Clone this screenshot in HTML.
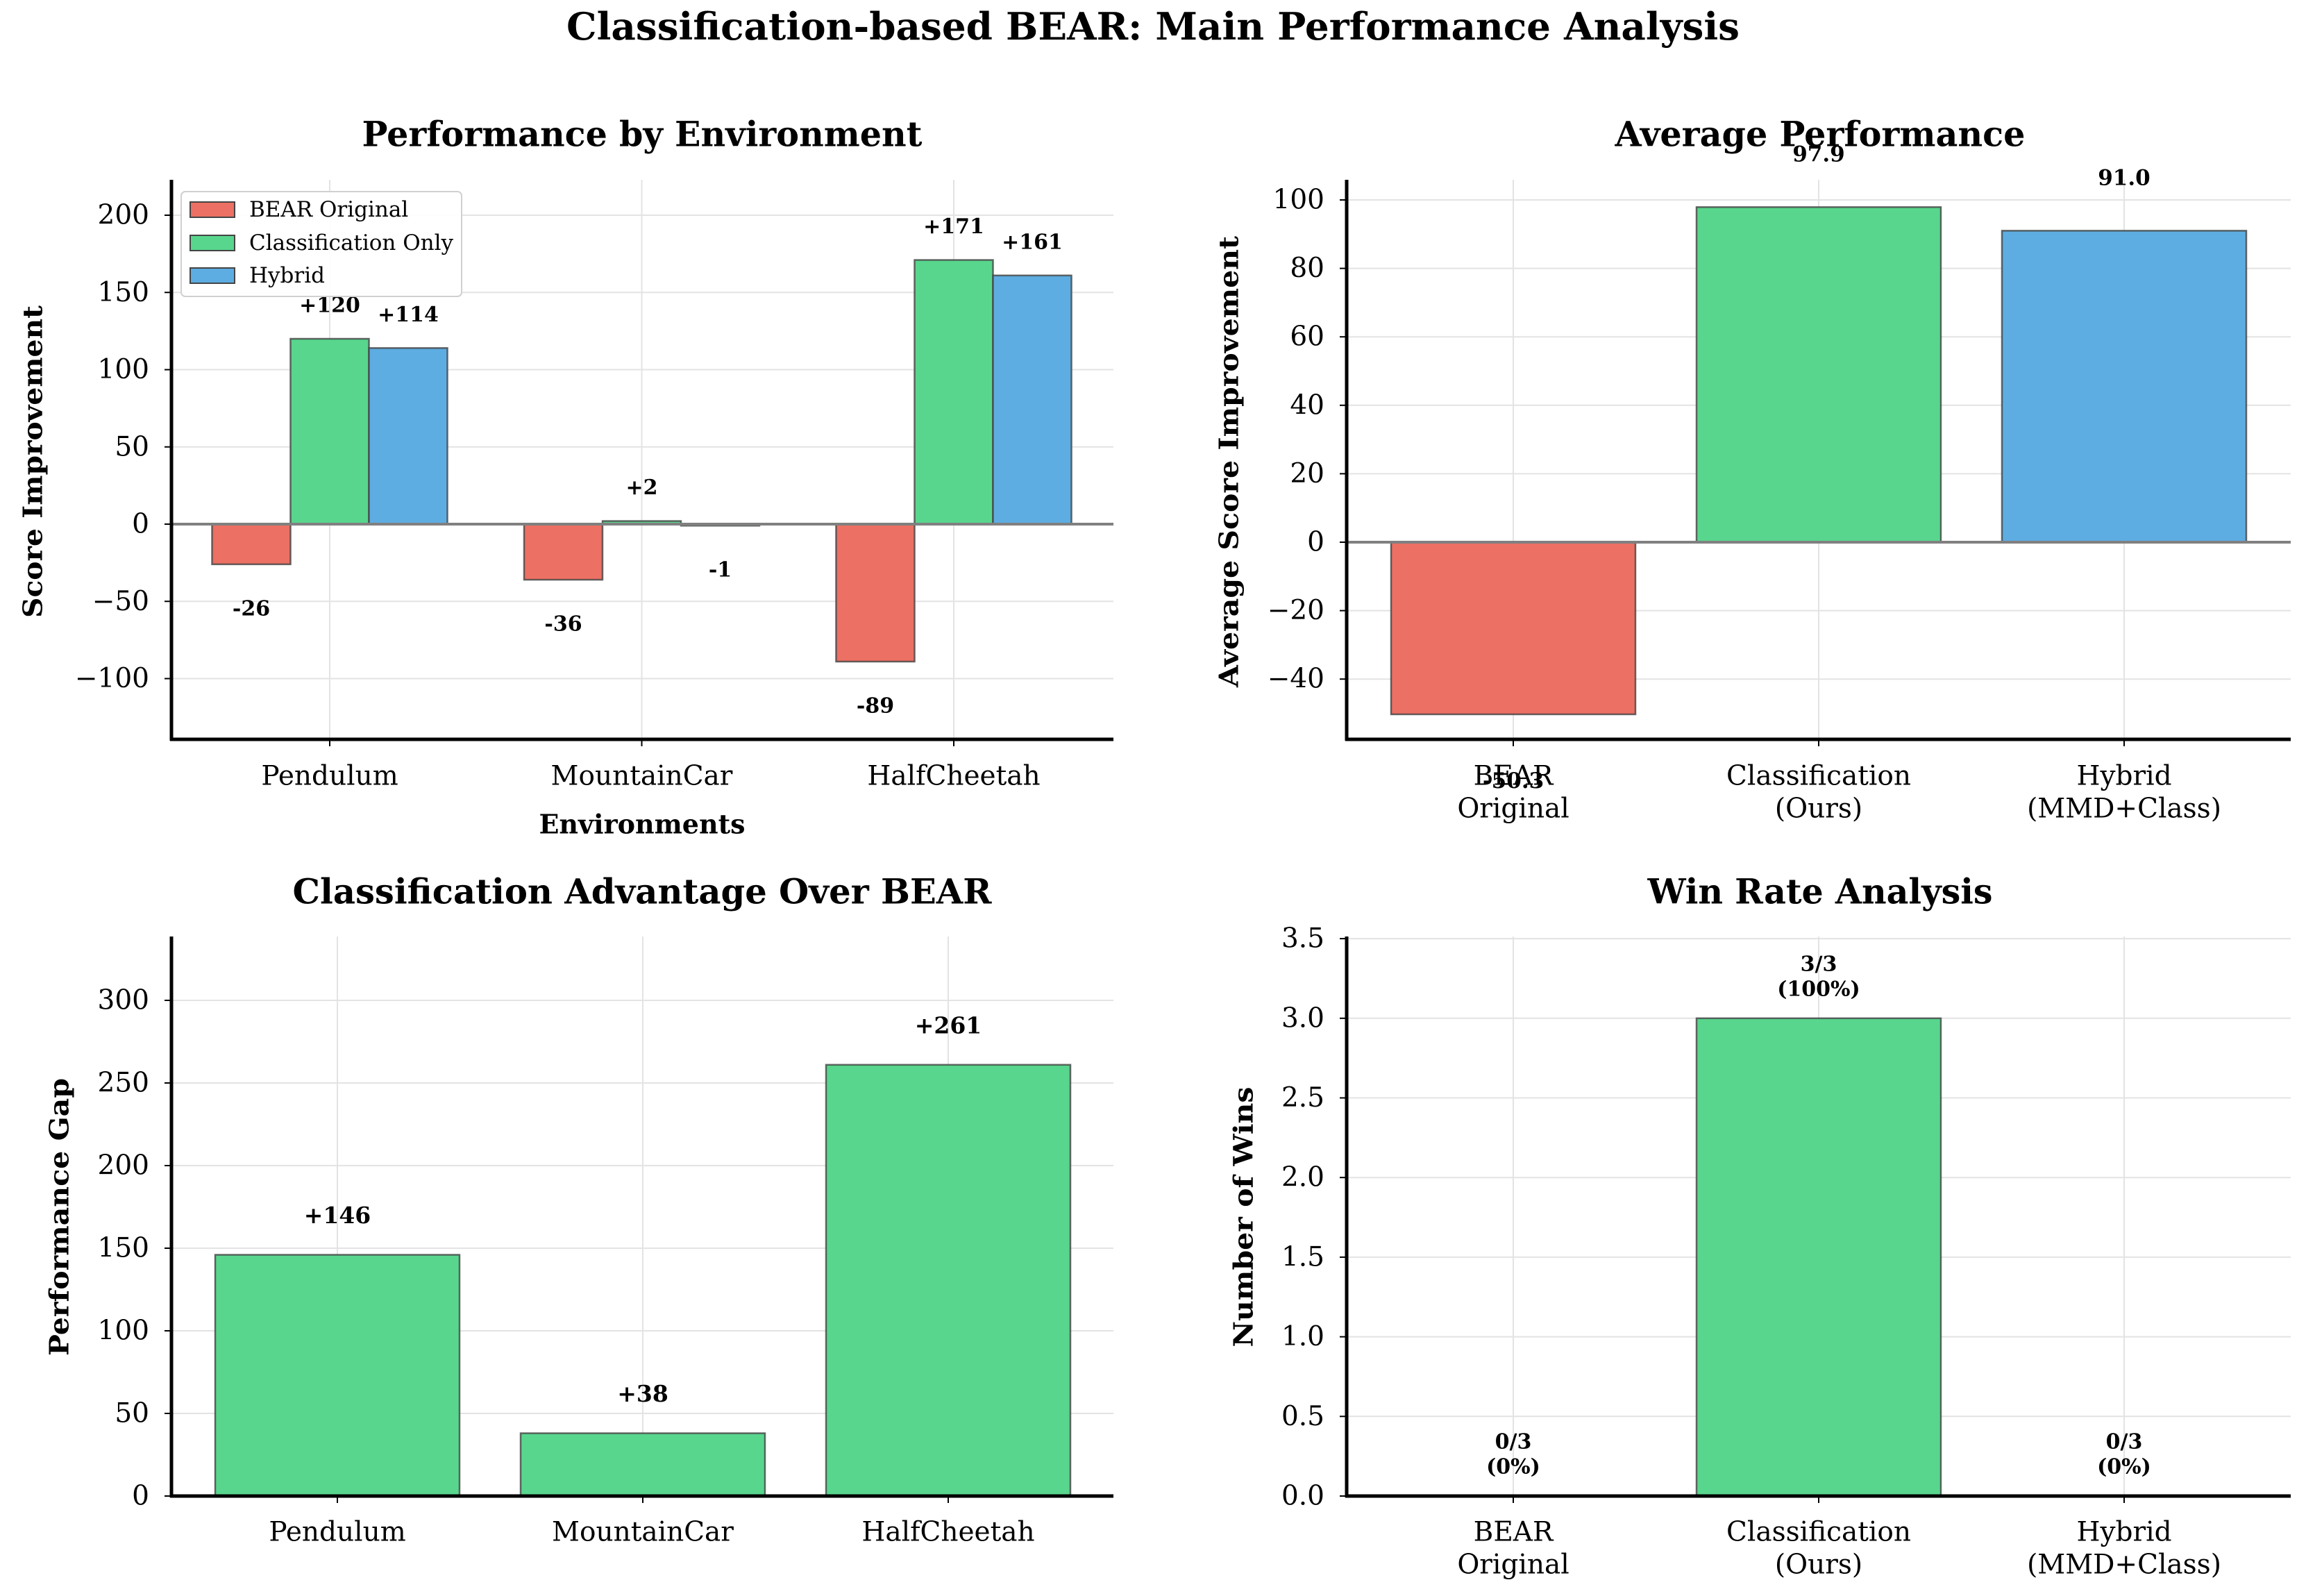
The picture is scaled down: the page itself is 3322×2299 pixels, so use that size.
<!DOCTYPE html>
<html><head><meta charset="utf-8">
<style>
html,body{margin:0;padding:0;background:#fff;}
svg{display:block;font-family:"DejaVu Serif","Liberation Serif",serif;}
</style></head>
<body>
<svg id="fig" width="3322" height="2299" viewBox="0 0 3322 2299" xmlns="http://www.w3.org/2000/svg">
<text x="1661" y="38" dominant-baseline="central" text-anchor="middle" font-weight="bold" font-size="54" textLength="1690" lengthAdjust="spacingAndGlyphs">Classification-based BEAR: Main Performance Analysis</text>
</svg>
<script>
// ---- data ----
const envCategories = ["Pendulum", "MountainCar", "HalfCheetah"];
const bearValues = [-26, -36, -89];
const classValues = [120, 2, 171];
const hybridValues = [114, -1, 161];
const perfTicks = [-100, -50, 0, 50, 100, 150, 200];
const methodLine1 = ["BEAR", "Classification", "Hybrid"];
const methodLine2 = ["Original", "(Ours)", "(MMD+Class)"];
const avgValues = [-50.3, 97.9, 91.0];
const avgTicks = [-40, -20, 0, 20, 40, 60, 80, 100];
const gapValues = [146, 38, 261];
const gapTicks = [0, 50, 100, 150, 200, 250, 300];
const winValues = [0, 3, 0];
const winTotal = 3;
const winTicks = [0, 0.5, 1.0, 1.5, 2.0, 2.5, 3.0, 3.5];

const NS = "http://www.w3.org/2000/svg";
const svg = document.getElementById("fig");
const RED = "#ec7063", GREEN = "#58d68d", BLUE = "#5dade2";
function mk(tag, attrs, parent) {
  const e = document.createElementNS(NS, tag);
  for (const k in attrs) e.setAttribute(k, attrs[k]);
  (parent || svg).appendChild(e);
  return e;
}
function txt(s, attrs, parent) { const e = mk("text", attrs, parent); e.textContent = s; return e; }

function axesFrame(g, L, R, T, B, xs, yTicks, yScale, tickFmt, labelX) {
  yTicks.forEach(t => {
    const y = yScale(t);
    const gl = mk("line", {x1: L, x2: R, y1: y, y2: y, stroke: "#e3e3e3", "stroke-width": 2}, g);
    
    
    const tk = mk("line", {x1: L - 10, x2: L, y1: y, y2: y, stroke: "#000", "stroke-width": 2}, g);
    
    
    const lb = txt(tickFmt(t), {x: labelX, y: y, "text-anchor": "end", "dominant-baseline": "central", "font-size": 39}, g);
    
    
  });
  xs.forEach(x => {
    const gl = mk("line", {x1: x, x2: x, y1: T, y2: B, stroke: "#e3e3e3", "stroke-width": 2}, g);
    
    
    const tk = mk("line", {x1: x, x2: x, y1: B, y2: B + 10, stroke: "#000", "stroke-width": 2}, g);
    
    
  });
}
function spines(g, L, R, T, B) {
  const l = mk("line", {x1: L, x2: L, y1: T, y2: B + 2, stroke: "#000", "stroke-width": 5}, g);
  
  
  const b = mk("line", {x1: L - 2, x2: R, y1: B, y2: B, stroke: "#000", "stroke-width": 5}, g);
  
  
}
function bar(g, x, w, y0, y1, fill, name) {
  const r = mk("rect", {x: x, y: Math.min(y0, y1), width: w, height: Math.max(Math.abs(y1 - y0), 1), fill: fill, stroke: "#444", "stroke-opacity": 0.8, "stroke-width": 2.5}, g);
  
  
  return r;
}

// ===== Panel 1 =====
{
  const L = 247, R = 1604, T = 259, B = 1065;
  const y0 = 755, pxPerUnit = 2.225;
  const ys = v => y0 - v * pxPerUnit;
  const xs = i => 475 + i * 449.5;
  const g = mk("g", {});
  
  
  axesFrame(g, L, R, T, B, envCategories.map((c, i) => xs(i)), perfTicks, ys, t => t < 0 ? "\u2212" + Math.abs(t) : String(t), 215);
  const bw = 113;
  const series = [[bearValues, RED, -1], [classValues, GREEN, 0], [hybridValues, BLUE, 1]];
  series.forEach(([vals, col, off], si) => {
    vals.forEach((v, i) => {
      const cx = xs(i) + off * bw;
      bar(g, cx - bw / 2, bw, ys(0), ys(v), col, ["bear-bar", "classification-bar", "hybrid-bar"][si]);
      const ly = v >= 0 ? ys(v) - 48 : ys(v) + 64;
      const lb = txt((v >= 0 ? "+" : "") + v, {x: cx, y: ly, "text-anchor": "middle", "dominant-baseline": "central", "font-size": 30, "font-weight": "bold"}, g);
      
      
    });
  });
  const zl = mk("line", {x1: L, x2: R, y1: ys(0), y2: ys(0), stroke: "#808080", "stroke-width": 4}, g);
  
  
  spines(g, L, R, T, B);
  envCategories.forEach((c, i) => {
    const t = txt(c, {x: xs(i), y: 1118, "text-anchor": "middle", "dominant-baseline": "central", "font-size": 39}, g);
    
    
  });
  const xl = txt("Environments", {x: 925, y: 1187, "text-anchor": "middle", "dominant-baseline": "central", "font-size": 38, "font-weight": "bold"}, g);
  
  
  const yl = txt("Score Improvement", {x: 47, y: 665, "text-anchor": "middle", "dominant-baseline": "central", "font-size": 38, "font-weight": "bold", transform: "rotate(-90 47 665)", textLength: 450, lengthAdjust: "spacingAndGlyphs"}, g);
  
  
  const tt = txt("Performance by Environment", {x: 925, y: 193, "text-anchor": "middle", "dominant-baseline": "central", "font-size": 50, "font-weight": "bold", textLength: 807, lengthAdjust: "spacingAndGlyphs"}, g);
  
  
  const lg = mk("g", {});
  
  
  const box = mk("rect", {x: 261, y: 276, width: 404, height: 151, rx: 6, fill: "#fff", "fill-opacity": 0.9, stroke: "#d0d0d0", "stroke-width": 2}, lg);
  
  
  [["BEAR Original", RED, 302], ["Classification Only", GREEN, 350], ["Hybrid", BLUE, 397]].forEach(([n, c, y]) => {
    const e = mk("g", {}, lg);
    
    
    mk("rect", {x: 274, y: y - 11, width: 64, height: 22, fill: c, stroke: "#444", "stroke-width": 2}, e);
    txt(n, {x: 359, y: y, "dominant-baseline": "central", "font-size": 31}, e);
  });
}

// ===== Panel 2 =====
{
  const L = 1940, R = 3300, T = 259, B = 1065;
  const y0 = 781, pxPerUnit = 4.93;
  const ys = v => y0 - v * pxPerUnit;
  const xs = i => 2180 + i * 440;
  const g = mk("g", {});
  
  
  axesFrame(g, L, R, T, B, methodLine1.map((c, i) => xs(i)), avgTicks, ys, t => t < 0 ? "\u2212" + Math.abs(t) : String(t), 1908);
  const bw = 352;
  avgValues.forEach((v, i) => {
    bar(g, xs(i) - bw / 2, bw, ys(0), ys(v), [RED, GREEN, BLUE][i], "average-bar");
  });
  const zl = mk("line", {x1: L, x2: R, y1: ys(0), y2: ys(0), stroke: "#808080", "stroke-width": 4}, g);
  
  
  spines(g, L, R, T, B);
  methodLine1.forEach((c, i) => {
    const t = txt(c, {x: xs(i), y: 1118, "text-anchor": "middle", "dominant-baseline": "central", "font-size": 39}, g);
    
    
    const t2 = txt(methodLine2[i], {x: xs(i), y: 1165, "text-anchor": "middle", "dominant-baseline": "central", "font-size": 39}, g);
    
    
  });
  avgValues.forEach((v, i) => {
    const ly = v >= 0 ? ys(v) - 76 : ys(v) + 96;
    const lb = txt(v.toFixed(1), {x: xs(i), y: ly, "text-anchor": "middle", "dominant-baseline": "central", "font-size": 31, "font-weight": "bold"}, g);
    
    
  });
  const yl = txt("Average Score Improvement", {x: 1770, y: 665, "text-anchor": "middle", "dominant-baseline": "central", "font-size": 38, "font-weight": "bold", transform: "rotate(-90 1770 665)", textLength: 650, lengthAdjust: "spacingAndGlyphs"}, g);
  
  
  const tt = txt("Average Performance", {x: 2622, y: 193, "text-anchor": "middle", "dominant-baseline": "central", "font-size": 50, "font-weight": "bold", textLength: 591, lengthAdjust: "spacingAndGlyphs"}, g);
  
  
}

// ===== Panel 3 =====
{
  const L = 247, R = 1604, T = 1349, B = 2155;
  const y0 = 2155, pxPerUnit = 2.38;
  const ys = v => y0 - v * pxPerUnit;
  const xs = i => 486 + i * 440;
  const g = mk("g", {});
  
  
  axesFrame(g, L, R, T, B, envCategories.map((c, i) => xs(i)), gapTicks, ys, t => String(t), 215);
  const bw = 352;
  gapValues.forEach((v, i) => {
    bar(g, xs(i) - bw / 2, bw, ys(0), ys(v), GREEN, "advantage-bar");
    const lb = txt("+" + v, {x: xs(i), y: ys(v) - 57, "text-anchor": "middle", "dominant-baseline": "central", "font-size": 33, "font-weight": "bold"}, g);
    
    
  });
  spines(g, L, R, T, B);
  envCategories.forEach((c, i) => {
    const t = txt(c, {x: xs(i), y: 2207, "text-anchor": "middle", "dominant-baseline": "central", "font-size": 39}, g);
    
    
  });
  const yl = txt("Performance Gap", {x: 85, y: 1753, "text-anchor": "middle", "dominant-baseline": "central", "font-size": 38, "font-weight": "bold", transform: "rotate(-90 85 1753)", textLength: 400, lengthAdjust: "spacingAndGlyphs"}, g);
  
  
  const tt = txt("Classification Advantage Over BEAR", {x: 925, y: 1284, "text-anchor": "middle", "dominant-baseline": "central", "font-size": 50, "font-weight": "bold", textLength: 1007, lengthAdjust: "spacingAndGlyphs"}, g);
  
  
}

// ===== Panel 4 =====
{
  const L = 1940, R = 3300, T = 1349, B = 2155;
  const y0 = 2155, pxPerUnit = 229.4;
  const ys = v => y0 - v * pxPerUnit;
  const xs = i => 2180 + i * 440;
  const g = mk("g", {});
  
  
  axesFrame(g, L, R, T, B, methodLine1.map((c, i) => xs(i)), winTicks, ys, t => t.toFixed(1), 1908);
  const bw = 352;
  winValues.forEach((v, i) => {
    if (v > 0) bar(g, xs(i) - bw / 2, bw, ys(0), ys(v), GREEN, "win-bar");
    const l1 = txt(v + "/" + winTotal, {x: xs(i), y: ys(v) - 78, "text-anchor": "middle", "dominant-baseline": "central", "font-size": 30, "font-weight": "bold"}, g);
    
    
    const l2 = txt("(" + Math.round(v / winTotal * 100) + "%)", {x: xs(i), y: ys(v) - 42, "text-anchor": "middle", "dominant-baseline": "central", "font-size": 30, "font-weight": "bold"}, g);
    
    
  });
  spines(g, L, R, T, B);
  methodLine1.forEach((c, i) => {
    const t = txt(c, {x: xs(i), y: 2207, "text-anchor": "middle", "dominant-baseline": "central", "font-size": 39}, g);
    
    
    const t2 = txt(methodLine2[i], {x: xs(i), y: 2254, "text-anchor": "middle", "dominant-baseline": "central", "font-size": 39}, g);
    
    
  });
  const yl = txt("Number of Wins", {x: 1791, y: 1753, "text-anchor": "middle", "dominant-baseline": "central", "font-size": 38, "font-weight": "bold", transform: "rotate(-90 1791 1753)", textLength: 375, lengthAdjust: "spacingAndGlyphs"}, g);
  
  
  const tt = txt("Win Rate Analysis", {x: 2622, y: 1284, "text-anchor": "middle", "dominant-baseline": "central", "font-size": 50, "font-weight": "bold", textLength: 497, lengthAdjust: "spacingAndGlyphs"}, g);
  
  
}
</script>
</body></html>
